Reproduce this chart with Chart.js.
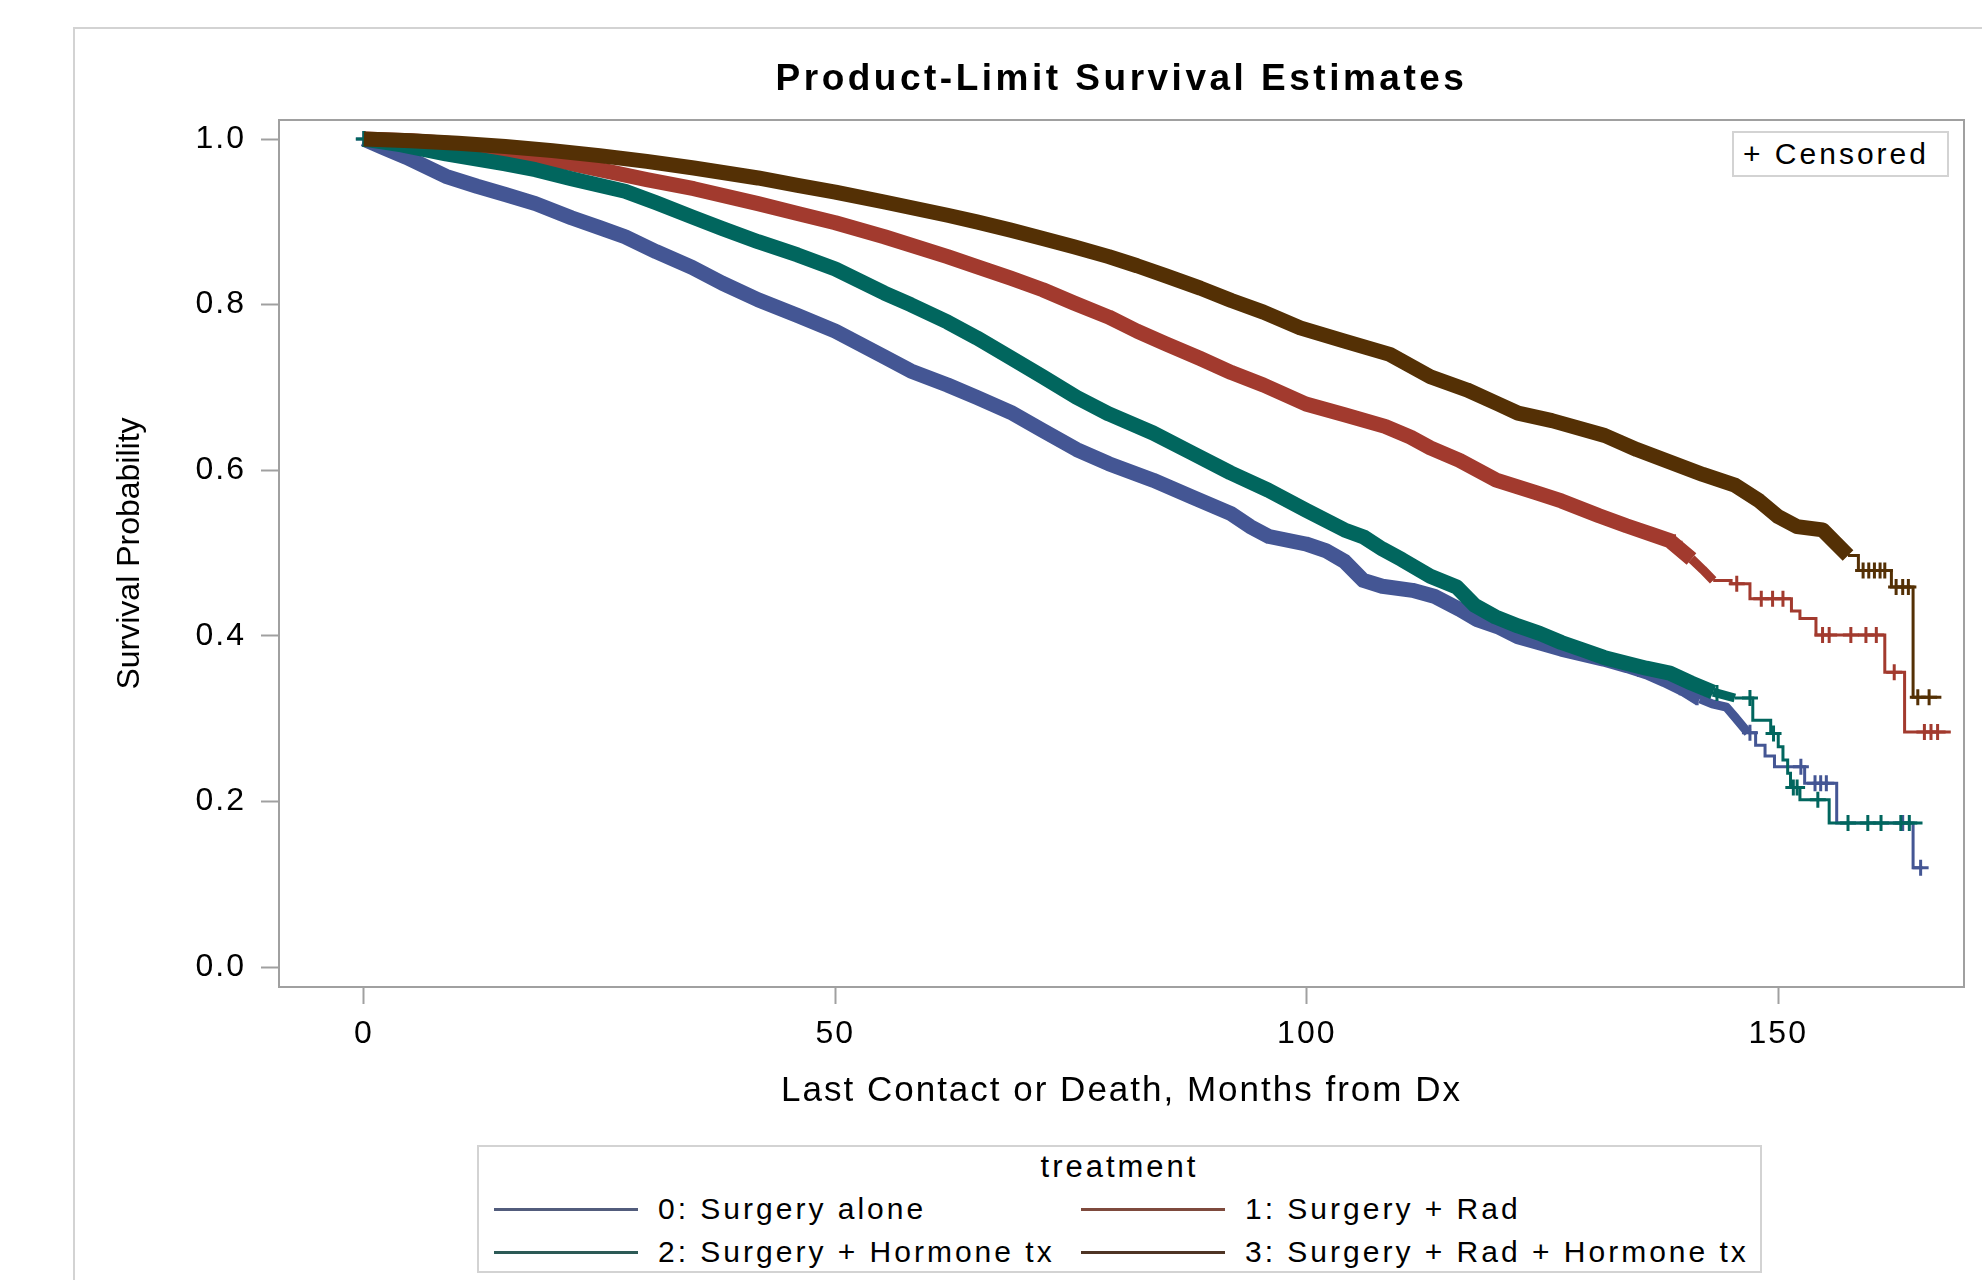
<!DOCTYPE html>
<html>
<head>
<meta charset="utf-8">
<script src="https://cdn.jsdelivr.net/npm/chart.js@4.4.1/dist/chart.umd.min.js"></script>
<style>
html,body{margin:0;padding:0;background:#fff;}
#wrap{position:relative;width:1982px;height:1280px;overflow:hidden;font-family:"Liberation Sans",Arial,sans-serif;color:#000;}
#frame{position:absolute;left:73px;top:27px;width:2000px;height:1400px;border:2px solid #d3d3d3;box-sizing:border-box;}
#chart{position:absolute;left:0;top:0;}
#legend{position:absolute;left:477px;top:1145px;width:1285px;height:128px;border:2px solid #d3d3d3;box-sizing:border-box;background:#fff;}
#legendTitle{position:absolute;left:0;right:0;top:2px;height:36px;line-height:36px;text-align:center;font-size:31px;letter-spacing:3px;}
.item{position:absolute;height:36px;display:flex;align-items:center;white-space:nowrap;font-size:30px;letter-spacing:3px;}
.item .ln{display:inline-block;width:144px;height:3px;margin-right:20px;}
#cens{position:absolute;left:1732px;top:131px;width:217px;height:46px;border:2px solid #d3d3d3;box-sizing:border-box;background:#fff;font-size:30px;letter-spacing:3px;line-height:42px;padding-left:9px;white-space:nowrap;}
</style>
</head>
<body>
<div id="wrap">
  <div id="frame"></div>
  <canvas id="chart" width="1982" height="1280"></canvas>
  <div id="cens">+ Censored</div>
  <div id="legend"><div id="legendTitle">treatment</div></div>
</div>
<script>
// ---------- chart texts ----------
const chartTitle = 'Product-Limit Survival Estimates';
const xTitle = 'Last Contact or Death, Months from Dx';
const yTitle = 'Survival Probability';
const legendTitle = 'treatment';
const censorLabel = '+ Censored';
const seriesNames = ['0: Surgery alone', '1: Surgery + Rad', '2: Surgery + Hormone tx', '3: Surgery + Rad + Hormone tx'];

// ---------- tick labels ----------
const xTicks = [0, 50, 100, 150];
const yTicks = [0.0, 0.2, 0.4, 0.6, 0.8, 1.0];

// ---------- 0: Surgery alone ----------
const s0Months = [0, 2, 4.5, 8.7, 12, 15, 18.2, 22, 25, 27.7, 31, 34.8, 38, 41.8, 46, 50, 55.2, 58, 61.9, 65, 68.6, 72, 75.6, 79, 83.7, 87.8, 91.9, 94, 96, 99.9, 102, 104, 106, 108, 111.2, 113.5, 116.2, 118, 120.3, 122.4, 124.3, 127, 131.5, 134, 136.2, 138, 140, 141.7, 143, 144.5, 145.4, 146.8];
const s0Surv   = [1.0, 0.99, 0.978, 0.955, 0.943, 0.933, 0.922, 0.905, 0.893, 0.882, 0.864, 0.845, 0.826, 0.806, 0.787, 0.768, 0.737, 0.72, 0.703, 0.688, 0.67, 0.648, 0.625, 0.608, 0.588, 0.568, 0.548, 0.532, 0.52, 0.511, 0.503, 0.49, 0.467, 0.46, 0.455, 0.448, 0.432, 0.42, 0.411, 0.399, 0.393, 0.384, 0.372, 0.364, 0.356, 0.347, 0.336, 0.324, 0.318, 0.314, 0.302, 0.283];
const s0TailMonths = [147.6, 148.6, 149.6, 152.8, 156.2, 164.3, 165.3];
const s0TailSurv   = [0.268, 0.255, 0.242, 0.222, 0.174, 0.120, 0.120];
const s0CensMonths = [0, 135.2, 139.6, 141.4, 147.0, 152.4, 153.9, 154.5, 155.1, 163.2, 165.1];
const s0CensSurv   = [1.0, 0.36, 0.338, 0.326, 0.283, 0.242, 0.222, 0.222, 0.222, 0.174, 0.120];

// ---------- 1: Surgery + Rad ----------
const s1Months = [0, 5, 10, 15, 20, 25, 30, 35, 41.8, 46, 50, 55.2, 61.9, 65, 68.6, 72, 75.3, 79, 82, 85, 88.7, 92, 95.4, 99.9, 104, 108.3, 111, 113.1, 116.2, 120.1, 124.3, 127, 131, 133.9, 136.5, 138.5, 140.8, 142, 143.1];
const s1Surv   = [1.0, 0.998, 0.994, 0.987, 0.975, 0.963, 0.951, 0.94, 0.922, 0.91, 0.899, 0.882, 0.858, 0.846, 0.832, 0.818, 0.802, 0.785, 0.768, 0.753, 0.735, 0.718, 0.703, 0.68, 0.667, 0.653, 0.64, 0.627, 0.612, 0.588, 0.573, 0.563, 0.545, 0.533, 0.523, 0.515, 0.493, 0.48, 0.467];
const s1TailMonths = [145.0, 147.0, 151.4, 152.3, 154.0, 161.3, 163.4, 168.3];
const s1TailSurv   = [0.463, 0.445, 0.430, 0.421, 0.401, 0.356, 0.284, 0.284];
const s1CensMonths = [139.0, 145.6, 148.2, 149.4, 150.5, 154.7, 155.4, 157.7, 159.3, 160.4, 162.3, 165.5, 166.2, 166.9];
const s1CensSurv   = [0.513, 0.463, 0.445, 0.445, 0.445, 0.401, 0.401, 0.401, 0.401, 0.401, 0.356, 0.284, 0.284, 0.284];

// ---------- 2: Surgery + Hormone tx ----------
const s2Months = [0, 4, 8.7, 15, 18.2, 22, 27.7, 31, 34.8, 38, 41.8, 46, 50, 55.2, 58, 61.9, 65, 68.6, 72, 75.6, 79, 83.7, 87.8, 91.9, 95.9, 99.9, 104, 106.1, 108, 110.1, 113.1, 115.9, 117.8, 120, 122.4, 124.7, 127, 129.3, 131.5, 133.9, 136, 138.5, 140.8, 143.1, 145.4];
const s2Surv   = [1.0, 0.993, 0.982, 0.97, 0.963, 0.952, 0.937, 0.923, 0.906, 0.892, 0.876, 0.86, 0.843, 0.814, 0.8, 0.779, 0.76, 0.736, 0.713, 0.688, 0.668, 0.645, 0.621, 0.597, 0.576, 0.552, 0.528, 0.519, 0.505, 0.492, 0.472, 0.459, 0.437, 0.423, 0.412, 0.403, 0.392, 0.383, 0.374, 0.367, 0.361, 0.355, 0.343, 0.332, 0.325];
const s2TailMonths = [147.3, 149.2, 150.0, 150.5, 151.0, 151.3, 152.3, 155.4, 165.3];
const s2TailSurv   = [0.298, 0.282, 0.266, 0.250, 0.234, 0.217, 0.202, 0.174, 0.174];
const s2CensMonths = [0, 143.5, 147.0, 149.5, 151.6, 152.0, 154.2, 157.4, 159.5, 160.9, 163.0, 163.9];
const s2CensSurv   = [1.0, 0.331, 0.325, 0.282, 0.217, 0.217, 0.202, 0.174, 0.174, 0.174, 0.174, 0.174];

// ---------- 3: Surgery + Rad + Hormone tx ----------
const s3Months = [0, 5, 10, 15, 20, 25, 30, 35, 41.8, 46, 50, 55.2, 61.9, 65, 68.6, 72, 75.3, 79, 82, 85, 88.7, 92, 95.4, 99.3, 104, 108.8, 113.1, 117, 120.3, 122.4, 126, 131.6, 135, 138.5, 142, 145.4, 148, 150, 152, 154.7, 157.4];
const s3Surv   = [1.0, 0.998, 0.995, 0.991, 0.986, 0.98, 0.973, 0.965, 0.953, 0.944, 0.936, 0.924, 0.908, 0.9, 0.89, 0.88, 0.87, 0.858, 0.847, 0.835, 0.82, 0.805, 0.791, 0.772, 0.756, 0.74, 0.713, 0.697, 0.68, 0.669, 0.66, 0.642, 0.625, 0.61, 0.595, 0.582, 0.563, 0.544, 0.532, 0.528, 0.497];
const s3TailMonths = [158.5, 162.0, 164.3, 167.3];
const s3TailSurv   = [0.479, 0.459, 0.326, 0.326];
const s3CensMonths = [159.0, 159.6, 160.2, 160.8, 161.3, 162.5, 163.2, 163.8, 164.8, 166.0];
const s3CensSurv   = [0.479, 0.479, 0.479, 0.479, 0.479, 0.459, 0.459, 0.459, 0.326, 0.326];

// ---------- styles ----------
const lineColors = ['#445694', '#A23A2E', '#01665E', '#543005'];
const legendLineColors = ['#525c7c', '#7e4a3d', '#2c5a56', '#4e3424'];
const drawOrder = [4, 3, 2, 1];          // lower = drawn on top
const taperFrom = [140.5, 140.5, 141, 156]; // where the dense band thins out
const denseWidth = 15;
const taperWidth = 9;
const tailWidth = 3;
const crossRadius = 8;
const axisGray = '#a0a0a0';
const fontFamily = '"Liberation Sans", Arial, sans-serif';

const series = [
  {m: s0Months, s: s0Surv, tm: s0TailMonths, ts: s0TailSurv, cm: s0CensMonths, cs: s0CensSurv},
  {m: s1Months, s: s1Surv, tm: s1TailMonths, ts: s1TailSurv, cm: s1CensMonths, cs: s1CensSurv},
  {m: s2Months, s: s2Surv, tm: s2TailMonths, ts: s2TailSurv, cm: s2CensMonths, cs: s2CensSurv},
  {m: s3Months, s: s3Surv, tm: s3TailMonths, ts: s3TailSurv, cm: s3CensMonths, cs: s3CensSurv}
];

const toXY = (xs, ys) => xs.map((x, i) => ({x: x, y: ys[i]}));
const datasets = [];
series.forEach((d, k) => {
  const last = d.m.length - 1;
  datasets.push({
    label: seriesNames[k], data: toXY(d.m, d.s), borderColor: lineColors[k],
    borderWidth: denseWidth, pointRadius: 0, tension: 0, fill: false,
    borderJoinStyle: 'round', borderCapStyle: 'butt', order: drawOrder[k],
    segment: {borderWidth: c => (c.p0.parsed.x >= taperFrom[k] ? taperWidth : denseWidth)}
  });
  datasets.push({
    label: seriesNames[k] + ' tail',
    data: [{x: d.m[last], y: d.s[last]}].concat(toXY(d.tm, d.ts)),
    borderColor: lineColors[k], borderWidth: tailWidth, stepped: true,
    pointRadius: 0, fill: false, order: drawOrder[k]
  });
  datasets.push({
    label: seriesNames[k] + ' censored', data: toXY(d.cm, d.cs), showLine: false,
    pointStyle: 'cross', pointRadius: crossRadius, borderColor: lineColors[k],
    backgroundColor: lineColors[k], pointBorderWidth: 3, borderWidth: 3, order: drawOrder[k]
  });
});

// ---------- plugins ----------
const plotBorder = {
  id: 'plotBorder',
  beforeDatasetsDraw(chart) {
    const {ctx, chartArea: a} = chart;
    ctx.save();
    ctx.strokeStyle = axisGray;
    ctx.lineWidth = 2;
    ctx.strokeRect(a.left, a.top, a.right - a.left, a.bottom - a.top);
    ctx.restore();
  }
};

const textSpacing = {
  id: 'textSpacing',
  beforeDraw(chart) {
    if (chart.$spaced) return;
    chart.$spaced = true;
    const wrap = (obj, fn, spacing, shift) => {
      if (!obj || !obj[fn]) return;
      const orig = obj[fn].bind(obj);
      obj[fn] = (...args) => {
        const ctx = chart.ctx;
        ctx.save();
        ctx.letterSpacing = spacing;
        if (shift) ctx.translate(shift(), 0);
        orig(...args);
        ctx.restore();
      };
    };
    wrap(chart.titleBlock, 'draw', '3.5px', () =>
      (chart.chartArea.left + chart.chartArea.right) / 2 - (chart.titleBlock.left + chart.titleBlock.right) / 2);
    wrap(chart.scales.x, 'drawLabels', '2px');
    wrap(chart.scales.x, 'drawTitle', '2px');
    wrap(chart.scales.y, 'drawLabels', '2px');
  }
};

Chart.defaults.font.family = fontFamily;
Chart.defaults.color = '#000';

new Chart(document.getElementById('chart'), {
  type: 'line',
  data: {datasets: datasets},
  options: {
    responsive: false,
    devicePixelRatio: 1,
    animation: false,
    layout: {padding: {left: 0, top: 0, right: 18, bottom: 150}},
    plugins: {
      legend: {display: false},
      tooltip: {enabled: false},
      title: {
        display: true, text: chartTitle, color: '#000',
        font: {size: 37, weight: 'bold', family: fontFamily, lineHeight: 1.2},
        padding: {top: 58, bottom: 17.6}
      }
    },
    scales: {
      x: {
        type: 'linear', min: -9, max: 169.7,
        afterBuildTicks: s => { s.ticks = xTicks.map(v => ({value: v})); },
        afterFit: s => { s.height = 143; },
        grid: {drawOnChartArea: false, drawTicks: true, tickLength: 17, tickColor: axisGray, tickWidth: 2},
        border: {display: false},
        ticks: {font: {size: 32}, color: '#000', padding: 11, maxRotation: 0, autoSkip: false, callback: v => String(v)},
        title: {display: true, text: xTitle, color: '#000', font: {size: 35}, padding: {top: 0, bottom: 18}}
      },
      y: {
        type: 'linear', min: -0.024, max: 1.023,
        afterBuildTicks: s => { s.ticks = yTicks.map(v => ({value: v})); },
        afterFit: s => { s.width = 279; },
        grid: {drawOnChartArea: false, drawTicks: true, tickLength: 18, tickColor: axisGray, tickWidth: 2},
        border: {display: false},
        ticks: {font: {size: 32}, color: '#000', padding: 15, autoSkip: false, callback: v => Number(v).toFixed(1)},
        title: {display: true, text: yTitle, color: '#000', font: {size: 32}, padding: {top: 111, bottom: 0}}
      }
    }
  },
  plugins: [plotBorder, textSpacing]
});

// ---------- HTML legend ----------
document.getElementById('legendTitle').textContent = legendTitle;
document.getElementById('cens').textContent = censorLabel;
const legend = document.getElementById('legend');
const colLeft = [15, 602];
const rowCenter = [62, 105];
seriesNames.forEach((name, k) => {
  const item = document.createElement('div');
  item.className = 'item';
  item.style.left = colLeft[k % 2] + 'px';
  item.style.top = (rowCenter[Math.floor(k / 2)] - 18) + 'px';
  const ln = document.createElement('span');
  ln.className = 'ln';
  ln.style.background = legendLineColors[k];
  const tx = document.createElement('span');
  tx.textContent = name;
  item.appendChild(ln);
  item.appendChild(tx);
  legend.appendChild(item);
});
</script>
</body>
</html>
